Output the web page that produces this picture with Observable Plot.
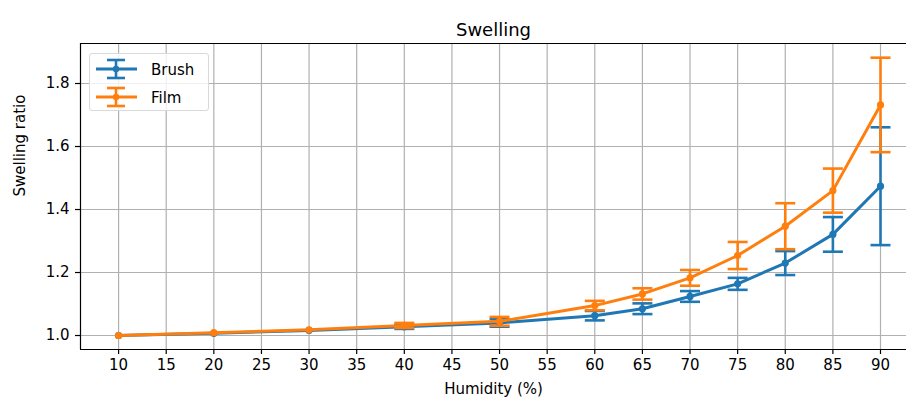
<!DOCTYPE html>
<html><head><meta charset="utf-8">
<script src="https://cdn.jsdelivr.net/npm/d3@7"></script>
<script src="https://cdn.jsdelivr.net/npm/@observablehq/plot@0.6"></script>
<style>
body{margin:0;overflow:hidden;background:#fff;font-family:"DejaVu Sans",sans-serif;}
#wrap{position:relative;width:906px;height:406px;}
.legend{position:absolute;left:89px;top:53px;width:120px;height:58px;border:1px solid #d9d9d9;border-radius:3px;background:rgba(255,255,255,0.8);box-sizing:border-box;}
.legend svg{position:absolute;left:0;top:0;}
</style></head><body><div id="wrap"></div>
<script>
const humidity = [10, 20, 30, 40, 50, 60, 65, 70, 75, 80, 85, 90];
const brush    = [1.000, 1.007, 1.016, 1.028, 1.040, 1.063, 1.085, 1.124, 1.164, 1.230, 1.321, 1.474];
const brushErr = [null, null, null, 0.007, 0.012, 0.015, 0.017, 0.017, 0.019, 0.038, 0.055, 0.187];
const film     = [1.000, 1.009, 1.018, 1.032, 1.045, 1.095, 1.132, 1.183, 1.254, 1.347, 1.460, 1.732];
const filmErr  = [null, null, null, 0.008, 0.014, 0.015, 0.018, 0.025, 0.043, 0.073, 0.070, 0.150];
const seriesNames = ["Brush", "Film"];
const seriesColors = ["#1f77b4", "#ff7f0e"];
const xTicks = [10,15,20,25,30,35,40,45,50,55,60,65,70,75,80,85,90];
const yTicks = [1.0, 1.2, 1.4, 1.6, 1.8];
const titleText = "Swelling";
const xLabel = "Humidity (%)";
const yLabel = "Swelling ratio";

const xDomain = [6, 92.73];
const yDomain = [0.9556, 1.927];

const cap = { draw(ctx, size) { const r = Math.sqrt(size / Math.PI); ctx.moveTo(-r, 0); ctx.lineTo(r, 0); } };

const errs = [brushErr, filmErr];
const series = [brush, film].map((vals, s) => humidity.map((h, i) => ({
  h, v: vals[i],
  lo: errs[s][i] == null ? null : vals[i] - errs[s][i],
  hi: errs[s][i] == null ? null : vals[i] + errs[s][i],
  name: seriesNames[s]
})));

const marks = [
  Plot.ruleY(yTicks, {stroke: "#b0b0b0", strokeWidth: 1.2}),
  Plot.ruleX(xTicks, {stroke: "#b0b0b0", strokeWidth: 1.2}),
];
series.forEach((d, s) => {
  const c = seriesColors[s];
  const e = d.filter(p => p.lo != null);
  marks.push(
    Plot.line(d, {x: "h", y: "v", stroke: c, strokeWidth: 3}),
    Plot.ruleX(e, {x: "h", y1: "lo", y2: "hi", stroke: c, strokeWidth: 2.6}),
    Plot.dot(e, {x: "h", y: "lo", symbol: cap, r: 10, stroke: c, strokeWidth: 2.6, fill: "none"}),
    Plot.dot(e, {x: "h", y: "hi", symbol: cap, r: 10, stroke: c, strokeWidth: 2.6, fill: "none"}),
    Plot.dot(d, {x: "h", y: "v", r: 3.6, fill: c, stroke: null})
  );
});
marks.push(
  Plot.ruleX([xDomain[0]], {stroke: "black", strokeWidth: 1.2}),
  Plot.ruleY(yDomain, {stroke: "black", strokeWidth: 1.2}),
  Plot.axisX(xTicks, {tickSize: 5, tickPadding: 5, fontSize: 15, label: null, stroke: "black", strokeWidth: 1.2}),
  Plot.axisY(yTicks, {tickSize: 5, tickPadding: 6, fontSize: 15, label: null, tickFormat: d3.format(".1f"), stroke: "black", strokeWidth: 1.2}),
  Plot.text([titleText], {frameAnchor: "top", dy: -20, fontSize: 18, fill: "black"}),
  Plot.text([xLabel], {frameAnchor: "bottom", dy: 44, fontSize: 15, fill: "black"}),
  Plot.text([yLabel], {frameAnchor: "left", dx: -60, rotate: -90, fontSize: 15, fill: "black"})
);

const chart = Plot.plot({
  width: 906, height: 406,
  marginLeft: 80, marginRight: 0, marginTop: 43, marginBottom: 57,
  style: {fontFamily: "DejaVu Sans", fontSize: "15px", color: "black", background: "white"},
  x: {domain: xDomain, range: [80, 906]},
  y: {domain: yDomain},
  marks
});
const wrap = document.getElementById("wrap");
wrap.appendChild(chart);

// legend
const leg = document.createElement("div");
leg.className = "legend";
const ns = "http://www.w3.org/2000/svg";
const svg = document.createElementNS(ns, "svg");
svg.setAttribute("width", 120); svg.setAttribute("height", 58);
seriesNames.forEach((name, i) => {
  const cy = 15 + i * 28, c = seriesColors[i];
  const add = (tag, attrs) => { const e = document.createElementNS(ns, tag); for (const k in attrs) e.setAttribute(k, attrs[k]); svg.appendChild(e); return e; };
  add("line", {x1: 6, x2: 47, y1: cy, y2: cy, stroke: c, "stroke-width": 3});
  add("line", {x1: 26, x2: 26, y1: cy - 9, y2: cy + 9, stroke: c, "stroke-width": 2.6});
  add("line", {x1: 17, x2: 35, y1: cy - 9, y2: cy - 9, stroke: c, "stroke-width": 2.6});
  add("line", {x1: 17, x2: 35, y1: cy + 9, y2: cy + 9, stroke: c, "stroke-width": 2.6});
  add("circle", {cx: 26, cy, r: 3.2, fill: c});
  const t = add("text", {x: 61, y: cy + 5.5, "font-size": 15, "font-family": "DejaVu Sans", fill: "black"});
  t.textContent = name;
});
leg.appendChild(svg);
wrap.appendChild(leg);
</script></body></html>
